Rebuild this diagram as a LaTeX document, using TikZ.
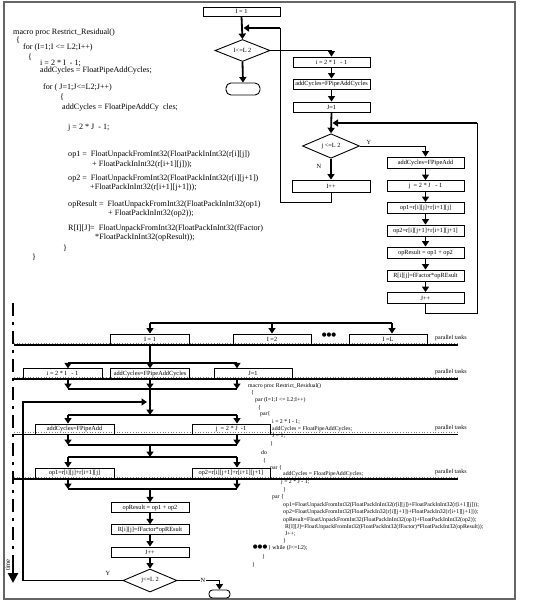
\documentclass[tikz,border=0pt]{standalone}
\usepackage{fontspec}
\setmainfont{Liberation Serif}
\newfontfamily\symfont{DejaVu Sans}
\usetikzlibrary{arrows.meta,shapes.geometric,calc}
\definecolor{framegray}{gray}{0.4}
\tikzset{
 box/.style={draw, line width=0.9pt, minimum width=77pt, minimum height=10pt, inner sep=0pt, font=\fontsize{6.3}{7}\selectfont},
 dia/.style={draw, diamond, line width=0.9pt, inner sep=0pt, font=\fontsize{6.3}{7}\selectfont},
 term/.style={draw, line width=0.9pt, inner sep=0pt},
 arr/.style={line width=1.8pt, -{Triangle[length=5.5pt,width=7pt]}},
 thinarr/.style={line width=0.8pt, -{Triangle[length=5.5pt,width=7pt]}},
 tline/.style={line width=0.8pt},
 yline/.style={line width=1.3pt},
 bline/.style={line width=2pt},
 pline/.style={line width=1.6pt},
 pdot/.style={line width=0.7pt, dotted, gray},
 code/.style={anchor=west, inner sep=0pt, font=\fontsize{8.1}{9}\selectfont},
 scode/.style={anchor=west, inner sep=0pt, font=\fontsize{5.8}{6}\selectfont},
 ptl/.style={anchor=west, inner sep=0pt, font=\fontsize{6}{7}\selectfont},
 lbl/.style={inner sep=0.5pt, font=\fontsize{6.3}{7}\selectfont},
 dotsym/.style={inner sep=0pt, font=\symfont\fontsize{5.5}{6}\selectfont},
}
\begin{document}
\begin{tikzpicture}[x=1pt,y=-1pt]
\useasboundingbox (0,0) rectangle (553,603);
% frame
\draw[framegray, line width=1.3pt] (4,2) rectangle (515,599);

% ---------- top code ----------
\node[code] (c1) at (13,33) {macro proc Restrict\_Residual()};
\node[code] (c2) at (16,40) {\{};
\node[code] (c3) at (23,48) {for (I=1;I <= L2;I++)};
\node[code] (c4) at (28,57) {\{};
\node[code] (c5) at (40,63.5) {i = 2 * I \ - 1;};
\node[code] (c6) at (40,71) {addCycles = FloatPipeAddCycles;};
\node[code] (c7) at (43,88) {for ( J=1;J<=L2;J++)};
\node[code] (c8) at (60,97) {\{};
\node[code] (c9) at (62,108) {addCycles = FloatPipeAddCy\ \ cles;};
\node[code] (c10) at (68,128) {j = 2 * J \ - 1;};
\node[code] (c11) at (68,155) {op1 = \ FloatUnpackFromInt32(FloatPackInInt32(r[i][j])};
\node[code] (c12) at (92,165) {+ FloatPackInInt32(r[i+1][j]));};
\node[code] (c13) at (68,179) {op2 = \ FloatUnpackFromInt32(FloatPackInInt32(r[i][j+1])};
\node[code] (c14) at (90,188) {+FloatPackInInt32(r[i+1][j+1]));};
\node[code] (c15) at (68,205) {opResult = \ FloatUnpackFromInt32(FloatPackInInt32(op1)};
\node[code] (c16) at (108,214) {+ FloatPackInInt32(op2));};
\node[code] (c17) at (68,229) {R[I][J]= \ FloatUnpackFromInt32(FloatPackInInt32(fFactor)};
\node[code] (c18) at (95,238) {*FloatPackInInt32(opResult));};
\node[code] (c19) at (63,248) {\}};
\node[code] (c20) at (32,257) {\}};

% ---------- top flowchart ----------
\node[box, minimum height=9pt] (I1) at (241.5,11.5) {I = 1};
\node[dia, minimum width=55pt, minimum height=21pt] (DI) at (242.5,50.5) {I<=L 2};
\node[term, rounded corners=5pt, minimum width=34pt, minimum height=12pt] (T1) at (243,89) {};
\node[box] (Bi) at (331.5,62) {i = 2 * I \ \ - 1};
\node[box] (Ba) at (331.5,84) {addCycles=FPipeAddCycles};
\node[box] (BJ) at (331.5,107) {J=1};
\node[dia, minimum width=57pt, minimum height=22pt] (DJ) at (331,146) {j <=L 2};
\node[box, minimum width=78pt, minimum height=12pt] (Ipp) at (331,186) {I++};
\node[box, minimum height=11pt] (R1) at (425.5,162.5) {addCycles=FPipeAdd};
\node[box, minimum height=11pt] (R2) at (425.5,186) {j \ = 2 * J \ \ - 1};
\node[box, minimum height=11pt] (R3) at (425.5,208) {op1=r[i][j]+r[i+1][j]};
\node[box, minimum height=11pt] (R4) at (425.5,230.5) {op2=r[i][j+1]+r[i+1][j+1]};
\node[box, minimum height=11pt] (R5) at (425.5,252.5) {opResult = op1 + op2};
\node[box, minimum height=11pt] (R6) at (425.5,275.5) {R[i][j]=fFactor*opREsult};
\node[box, minimum height=11pt] (R7) at (425.5,298) {J++};
\node[lbl] (ly1) at (369,142) {Y};
\node[lbl] (ln1) at (319,166) {N};

\draw[arr] (I1.south) -- (DI.north);
\draw[arr] (DI.south) -- (T1.north);
\draw[thinarr] (DI.east) -| (Bi.north);
\draw[arr] (Bi.south) -- (Ba.north);
\draw[arr] (Ba.south) -- (BJ.north);
\draw[arr] (BJ.south) -- (DJ.north);
\draw[thinarr] (DJ.east) -| (R1.north);
\draw[arr] (DJ.south) -- (Ipp.north);
\draw[arr] (R1.south) -- (R2.north);
\draw[arr] (R2.south) -- (R3.north);
\draw[arr] (R3.south) -- (R4.north);
\draw[arr] (R4.south) -- (R5.north);
\draw[arr] (R5.south) -- (R6.north);
\draw[arr] (R6.south) -- (R7.north);
% J loop back
\coordinate (jl1) at (425.5,313);
\coordinate (jl2) at (477,313);
\coordinate (jl3) at (477,123);
\coordinate (jl4) at (332.5,123);
\draw[tline] (R7.south) -- (jl1) -- (jl2) -- (jl3);
\draw[arr] ([xshift=0.4pt]jl3) -- (jl4);
% I loop back
\coordinate (il1) at (331,202);
\coordinate (il2) at (280,202);
\coordinate (il3) at (280,28);
\coordinate (il4) at (243.5,28);
\draw[tline] (Ipp.south) -- (il1) -- (il2) -- (il3);
\draw[arr] ([xshift=0.4pt]il3) -- (il4);

% ---------- lower section ----------
% time axis
\coordinate (ta) at (13,303);
\coordinate (tb) at (13,568);
\coordinate (tc) at (13,566);
\coordinate (td) at (13,583);
\draw[line width=2.8pt, dash pattern=on 13pt off 5.5pt on 3pt off 6.5pt] (ta) -- (tb);
\draw[line width=2.8pt, -{Triangle[length=10pt,width=10pt]}] (tc) -- (td);
\node[rotate=90, inner sep=0pt, font=\fontsize{6.5}{7}\selectfont] (tlab) at (7.8,565) {time};

% parallel task lines
\foreach \n/\yy in {1/345,2/379,3/434.5,4/479}{
  \coordinate (pl\n a) at (14,\yy);
  \coordinate (pl\n b) at (458,\yy);
  \draw[pline] (pl\n a) -- (pl\n b);
  \draw[pdot] ([yshift=1.9pt]pl\n a) -- ([yshift=1.9pt]pl\n b);
  \node[ptl] (pt\n) at (435,\yy-6.5) {parallel tasks};
}

% row 1
\node[box, minimum width=79pt] (P1a) at (150,339) {I = 1};
\node[box, minimum width=78pt] (P1b) at (272,339) {I =2};
\node[box, minimum width=78pt] (P1c) at (388,339) {I =L};
\node[dotsym] (dots1) at (329,335.5) {●●●};
\coordinate (tl1) at (150,323);
\coordinate (tl3) at (392,323);
\draw[bline] (tl1) -- (tl3);
\draw[arr] (tl1) -- (P1a.north);
\draw[arr] (tl1 -| P1b) -- (P1b.north);
\draw[arr] (tl3) -- (tl3 |- P1c.north);

% row 2
\node[box, minimum width=79pt, minimum height=9.5pt] (P2a) at (62.5,373.5) {i = 2 * I \ \ - 1};
\node[box, minimum width=79pt, minimum height=9.5pt] (P2b) at (150,373.5) {addCycles=FPipeAddCycles};
\node[box, minimum width=78pt, minimum height=9.5pt] (P2c) at (253,373.5) {J=1};
\coordinate (s1) at (150,363);
\coordinate (s1L) at (68,363);
\coordinate (s1R) at (237,363);
\draw[bline] (P1a.south) -- (s1);
\draw[bline] (s1L) -- (s1R);
\draw[arr] (s1L) -- (s1L |- P2a.north);
\draw[arr] (s1) -- (P2b.north);
\draw[arr] (s1R) -- (s1R |- P2c.north);

% join 1 / split 2
\coordinate (j1) at (150,389);
\coordinate (j1L) at (68,389);
\coordinate (j1R) at (237,389);
\draw[arr] (j1L |- P2a.south) -- (j1L);
\draw[arr] (P2b.south) -- (j1);
\draw[arr] (j1R |- P2c.south) -- (j1R);
\draw[bline] (j1L) -- (j1R);
\coordinate (s2) at (150,415);
\coordinate (s2L) at (68,415);
\coordinate (s2R) at (237,415);
\draw[arr] (j1) -- (s2);
\draw[bline] (s2L) -- (s2R);

% row 3
\node[box, minimum width=79pt] (P3a) at (74.5,429) {addCycles=FPipeAdd};
\node[box, minimum width=78pt] (P3b) at (231,429) {j \ = 2 * J \ -1};
\draw[arr] (s2L) -- (s2L |- P3a.north);
\draw[arr] (s2R) -- (s2R |- P3b.north);
\coordinate (j2) at (150,445);
\coordinate (j2L) at (68,445);
\coordinate (j2R) at (237,445);
\draw[arr] (j2L |- P3a.south) -- (j2L);
\draw[arr] (j2R |- P3b.south) -- (j2R);
\draw[bline] (j2L) -- (j2R);
\coordinate (s3) at (150,457);
\coordinate (s3L) at (68,457);
\coordinate (s3R) at (237,457);
\draw[arr] (j2) -- (s3);
\draw[bline] (s3L) -- (s3R);

% row 4
\node[box, minimum width=79pt] (P4a) at (74.5,473) {op1=r[i][j]+r[i+1][j]};
\node[box, minimum width=78pt] (P4b) at (231,473) {op2=r[i][j+1]+r[i+1][j+1]};
\draw[arr] (s3L) -- (s3L |- P4a.north);
\draw[arr] (s3R) -- (s3R |- P4b.north);
\coordinate (j3) at (150,489);
\coordinate (j3L) at (68,489);
\coordinate (j3R) at (237,489);
\draw[arr] (j3L |- P4a.south) -- (j3L);
\draw[arr] (j3R |- P4b.south) -- (j3R);
\draw[bline] (j3L) -- (j3R);

% trunk
\node[box, minimum width=78pt, minimum height=9.5pt] (Q1) at (150,507.5) {opResult = op1 + op2};
\node[box, minimum width=78pt, minimum height=9.5pt] (Q2) at (150,529.5) {R[i][j]=fFactor*opREsult};
\node[box, minimum width=78pt] (Q3) at (150,552) {J++};
\node[dia, minimum width=54pt, minimum height=23pt] (QD) at (150,580.5) {j<=L 2};
\node[term, rounded corners=3.5pt, minimum width=21pt, minimum height=8pt] (QT) at (219.5,594) {};
\draw[arr] (j3) -- (Q1.north);
\draw[arr] (Q1.south) -- (Q2.north);
\draw[arr] (Q2.south) -- (Q3.north);
\draw[arr] (Q3.south) -- (QD.north);
% Y loop
\coordinate (y1) at (23,580.5);
\coordinate (y2) at (23,402);
\coordinate (y3) at (147,402);
\draw[yline] (QD.west) -- (y1) -- (y2);
\draw[arr] ([xshift=-0.6pt]y2) -- (y3);
\node[lbl] (ly2) at (108,573) {Y};
% N exit
\coordinate (n1) at (219.5,580.5);
\draw[tline] (QD.east) -- (n1);
\draw[arr] ([yshift=0.4pt]n1) -- (QT.north);
\node[lbl, fill=white] (ln2) at (203,580.5) {N};

% lower code
\node[scode] (d1) at (248,386) {macro proc Restrict\_Residual()};
\node[scode] (d2) at (251,393) {\{};
\node[scode] (d3) at (255,400) {par (I=1;I <= L2;I++)};
\node[scode] (d4) at (258,407.5) {\{};
\node[scode] (d5) at (260,414.5) {par\{};
\node[scode] (d6) at (272,422.5) {i = 2 * I - 1;};
\node[scode] (d7) at (272,429) {addCycles = FloatPipeAddCycles;};
\node[scode] (d8) at (272,436.5) {J = 1;};
\node[scode] (d9) at (270,444) {\}};
\node[scode] (d10) at (261,453) {do};
\node[scode] (d11) at (263,461) {\{};
\node[scode] (d12) at (270,468.5) {par \{};
\node[scode] (d13) at (283,474) {addCycles = FloatPipeAddCycles;};
\node[scode] (d14) at (281,482) {j = 2 * J - 1;};
\node[scode] (d15) at (283,489.5) {\}};
\node[scode] (d16) at (272,497) {par \{};
\node[scode] (d17) at (283,505) {op1=FloatUnpackFromInt32(FloatPackInInt32(r[i][j])+FloatPackInInt32(r[i+1][j]));};
\node[scode] (d18) at (283,512.5) {op2=FloatUnpackFromInt32(FloatPackIn32(r[i][j+1])+FloatPackIn32(r[i+1][j+1]));};
\node[scode] (d19) at (283,520) {opResult=FloatUnpackFromInt32(FloatPackInInt32(op1)+FloatPackInInt32(op2));};
\node[scode] (d20) at (285,527) {R[I][J]=FloatUnpackFromInt32(FloatPackInt32(fFactor)*FloatPackInt32(opResult));};
\node[scode] (d21) at (285,534) {J++;};
\node[scode] (d22) at (283,541) {\}};
\node[dotsym, anchor=east] (dots2) at (267.5,547) {●●●};
\node[scode] (d23) at (268,548) {\} while (J<=L2);};
\node[scode] (d24) at (262,557) {\}};
\node[scode] (d25) at (252,565) {\}};
\end{tikzpicture}
\end{document}
